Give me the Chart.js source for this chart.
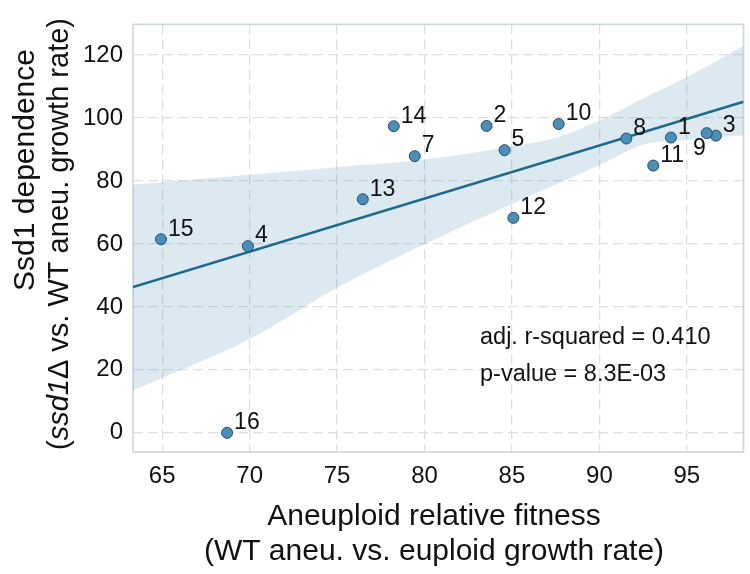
<!DOCTYPE html>
<html><head><meta charset="utf-8">
<script src="https://cdn.jsdelivr.net/npm/chart.js@4.4.1/dist/chart.umd.min.js"></script>
<style>html,body{margin:0;padding:0;background:#fff;}#wrap{width:750px;height:574px;}</style>
</head><body><div id="wrap"><canvas id="c" width="750" height="574"></canvas></div>
<script>
// ---- data ----
const pointLabels = ['1','2','3','4','5','7','8','9','10','11','12','13','14','15','16'];
const fitnessX    = [94.09,83.55,96.66,69.90,84.58,79.44,91.54,96.14,87.67,93.08,85.08,76.47,78.24,64.93,68.71];
const dependenceY = [93.8,97.5,94.4,59.3,89.8,87.9,93.5,95.2,98.1,84.9,68.3,74.2,97.4,61.5,0.0];
const fitLineX = [63.33, 98.24];
const fitLineY = [46.3, 105.2];
const bandX     = [63.33,65,70,75,80,85,87.67,90,92.5,95,98.24];
const bandUpper = [78.8,79.6,82.0,84.4,86.8,91.0,94.0,99.2,106.2,113.0,123.0];
const bandLower = [13.4,17.4,29.8,46.1,59.9,72.7,79.3,85.0,91.5,93.0,94.5];
const xTicks = [65,70,75,80,85,90,95];
const yTicks = [0,20,40,60,80,100,120];
const xTitle = ['Aneuploid relative fitness','(WT aneu. vs. euploid growth rate)'];
const yTitle1 = 'Ssd1 dependence';
const yTitle2 = [['(',false],['ssd1',true],['\u0394 vs. WT aneu. growth rate)',false]];
const statsText = ['adj. r-squared = 0.410','p-value = 8.3E-03'];

const FONT = '"Liberation Sans", Arial, Helvetica, sans-serif';
const zip = (xs, ys) => xs.map((x,i)=>({x:x, y:ys[i]}));

const decor = {
  id:'decor',
  beforeDatasetsDraw(chart){
    const {ctx, chartArea:a} = chart;
    ctx.save();
    ctx.strokeStyle = '#cdd6da';
    ctx.lineWidth = 1.6;
    ctx.strokeRect(a.left, a.top, a.right-a.left, a.bottom-a.top);
    ctx.restore();
  },
  afterDatasetsDraw(chart){
    const {ctx} = chart;
    const xs = chart.scales.x, ys = chart.scales.y;
    ctx.save();
    ctx.fillStyle = '#111';
    ctx.font = '23px ' + FONT;
    ctx.textBaseline = 'middle';
    pointLabels.forEach((lab,i)=>{
      const px = xs.getPixelForValue(fitnessX[i]);
      const py = ys.getPixelForValue(dependenceY[i]);
      if (lab === '9') {
        ctx.textAlign = 'right';
        ctx.fillText(lab, px - 1, py + 16);
      } else {
        ctx.textAlign = 'left';
        ctx.fillText(lab, px + 7, py - 10);
      }
    });
    // stats annotation
    ctx.font = '23.5px ' + FONT;
    ctx.textAlign = 'left';
    ctx.fillText(statsText[0], 480, 338);
    ctx.fillText(statsText[1], 480, 375);
    ctx.restore();
  },
  afterDraw(chart){
    const {ctx} = chart;
    ctx.save();
    ctx.fillStyle = '#111';
    ctx.textBaseline = 'middle';
    ctx.textAlign = 'center';
    ctx.font = '30px ' + FONT;
    ctx.fillText(xTitle[0], 434, 517);
    ctx.fillText(xTitle[1], 434, 552);
    // y title (rotated)
    ctx.save();
    ctx.translate(26, 170);
    ctx.rotate(-Math.PI/2);
    ctx.fillText(yTitle1, 0, 0);
    ctx.restore();
    ctx.save();
    ctx.translate(60, 234);
    ctx.rotate(-Math.PI/2);
    let total = 0;
    const widths = yTitle2.map(([t,it])=>{
      ctx.font = (it ? 'italic ' : '') + '29px ' + FONT;
      const w = ctx.measureText(t).width; total += w; return w;
    });
    let cx = -total/2;
    ctx.textAlign = 'left';
    yTitle2.forEach(([t,it],i)=>{
      ctx.font = (it ? 'italic ' : '') + '29px ' + FONT;
      ctx.fillText(t, cx, 0);
      cx += widths[i];
    });
    ctx.restore();
    ctx.restore();
  }
};

new Chart(document.getElementById('c'), {
  type:'scatter',
  data:{
    datasets:[
      {label:'strains', data:zip(fitnessX, dependenceY), order:0,
       pointRadius:5.5, pointHoverRadius:5.5, backgroundColor:'#4a8fba', borderColor:'#2b4b60', borderWidth:1},
      {label:'fit', data:zip(fitLineX, fitLineY), order:1, showLine:true,
       pointRadius:0, borderColor:'#1d6990', borderWidth:2.6, fill:false},
      {label:'upper', data:zip(bandX, bandUpper), order:2, showLine:true, pointRadius:0,
       borderColor:'rgba(0,0,0,0)', borderWidth:0, cubicInterpolationMode:'monotone',
       fill:'+1', backgroundColor:'rgba(40,120,170,0.16)'},
      {label:'lower', data:zip(bandX, bandLower), order:3, showLine:true, pointRadius:0,
       borderColor:'rgba(0,0,0,0)', borderWidth:0, cubicInterpolationMode:'monotone', fill:false}
    ]
  },
  options:{
    responsive:false, animation:false, devicePixelRatio:1,
    layout:{padding:{left:0, right:5, top:6, bottom:0}},
    plugins:{legend:{display:false}, tooltip:{enabled:false}},
    scales:{
      x:{type:'linear', min:63.33, max:98.24,
         afterBuildTicks:s=>{s.ticks = xTicks.map(v=>({value:v}));},
         afterFit:s=>{s.height = 122;},
         ticks:{font:{family:FONT, size:24}, color:'#111', padding:10, maxRotation:0, autoSkip:false},
         grid:{color:'#dedede', lineWidth:1.3, drawTicks:false},
         border:{display:false, dash:[10,5]}},
      y:{type:'linear', min:-6.1, max:129.75,
         afterBuildTicks:s=>{s.ticks = yTicks.map(v=>({value:v}));},
         afterFit:s=>{s.width = 133;},
         ticks:{font:{family:FONT, size:24}, color:'#111', padding:10, autoSkip:false},
         grid:{color:'#dedede', lineWidth:1.3, drawTicks:false},
         border:{display:false, dash:[10,5]}}
    }
  },
  plugins:[decor]
});
</script></body></html>
